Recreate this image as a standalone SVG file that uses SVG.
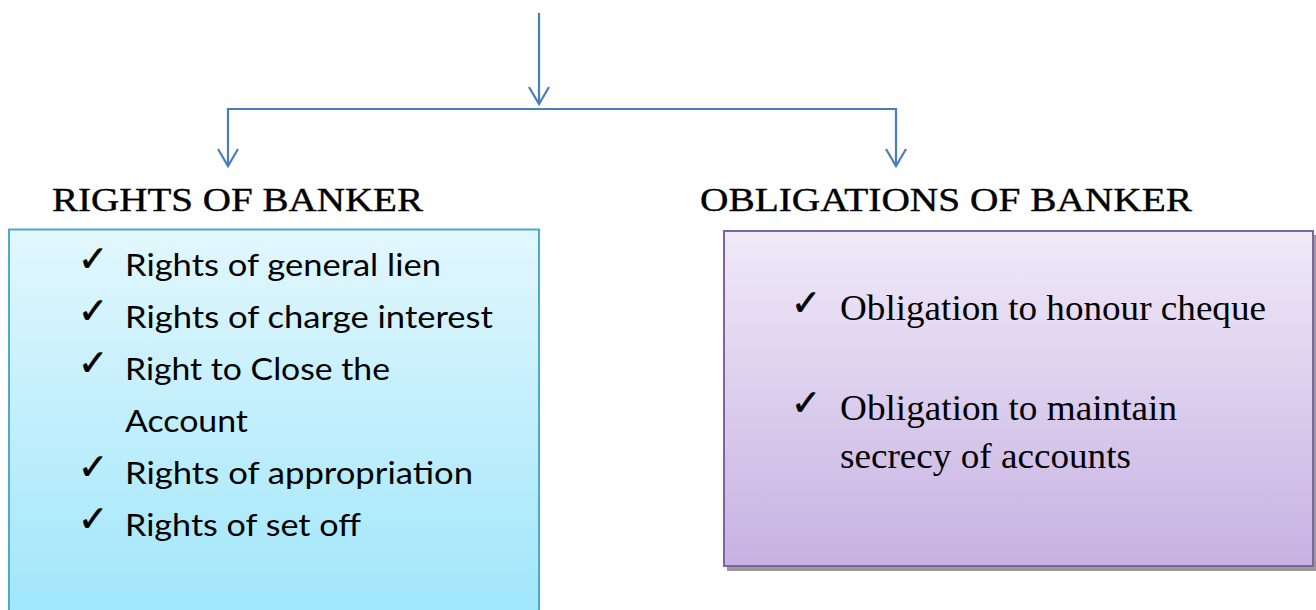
<svg xmlns="http://www.w3.org/2000/svg" width="1316" height="610" viewBox="0 0 1316 610">
<style>
.conn{fill:none;stroke:#4a7ebb;stroke-width:2.2}
.head{fill:none;stroke:#4a7ebb;stroke-width:2.2;stroke-linejoin:miter}
.hdr{font-family:"Liberation Serif",serif;font-size:33px;fill:#000;stroke:#000;stroke-width:0.4}
.li{font-family:Lato,"Liberation Sans",sans-serif;font-size:31px;fill:#000}
.ri{font-family:"Liberation Serif",serif;font-size:36px;fill:#000}
.chk{font-family:"DejaVu Sans",sans-serif;font-size:36px;fill:#000;stroke:#000;stroke-width:0.6}
</style>
<defs>
<linearGradient id="gBlue" x1="0" y1="0" x2="0" y2="1">
<stop offset="0" stop-color="#e2f7fd"/>
<stop offset="1" stop-color="#9fe6fb"/>
</linearGradient>
<linearGradient id="gPurple" x1="0" y1="0" x2="0" y2="1">
<stop offset="0" stop-color="#f0eaf8"/>
<stop offset="1" stop-color="#c7b1e2"/>
</linearGradient>
</defs>
<rect width="1316" height="610" fill="#fff"/>
<g id="connectors">
<path class="conn" d="M539 13 V104"/>
<path class="head" d="M529 87 L539 104 L549 87"/>
<path class="conn" d="M228 166 V109 H896 V166"/>
<path class="head" d="M218 149 L228 166 L238 149"/>
<path class="head" d="M886 149 L896 166 L906 149"/>
</g>
<g id="rights-header">
<text class="hdr" x="52" y="211" textLength="371" lengthAdjust="spacingAndGlyphs">RIGHTS OF BANKER</text>
</g>
<g id="obligations-header">
<text class="hdr" x="700" y="211" textLength="492" lengthAdjust="spacingAndGlyphs">OBLIGATIONS OF BANKER</text>
</g>
<g id="rights-box">
<rect x="9" y="229.5" width="530" height="390" fill="url(#gBlue)" stroke="#4bacc6" stroke-width="2"/>
<text class="chk" x="78" y="271">✓</text>
<text class="li" x="125" y="276" textLength="316" lengthAdjust="spacingAndGlyphs">Rights of general lien</text>
<text class="chk" x="78" y="323">✓</text>
<text class="li" x="125" y="328" textLength="368" lengthAdjust="spacingAndGlyphs">Rights of charge interest</text>
<text class="chk" x="78" y="375">✓</text>
<text class="li" x="125" y="380" textLength="265" lengthAdjust="spacingAndGlyphs">Right to Close the</text>
<text class="li" x="125" y="432" textLength="123" lengthAdjust="spacingAndGlyphs">Account</text>
<text class="chk" x="78" y="479">✓</text>
<text class="li" x="125" y="484" textLength="348" lengthAdjust="spacingAndGlyphs">Rights of appropriation</text>
<text class="chk" x="78" y="531">✓</text>
<text class="li" x="125" y="536" textLength="236" lengthAdjust="spacingAndGlyphs">Rights of set off</text>
</g>
<g id="obligations-box">
<rect x="727" y="235" width="592" height="336" fill="#9a9a9a"/>
<rect x="724" y="231" width="589" height="335" fill="url(#gPurple)" stroke="#8064a2" stroke-width="2"/>
<text class="chk" x="791" y="315">✓</text>
<text class="ri" x="840" y="320" textLength="426" lengthAdjust="spacingAndGlyphs">Obligation to honour cheque</text>
<text class="chk" x="791" y="415">✓</text>
<text class="ri" x="840" y="420" textLength="337" lengthAdjust="spacingAndGlyphs">Obligation to maintain</text>
<text class="ri" x="840" y="468" textLength="291" lengthAdjust="spacingAndGlyphs">secrecy of accounts</text>
</g>
</svg>
